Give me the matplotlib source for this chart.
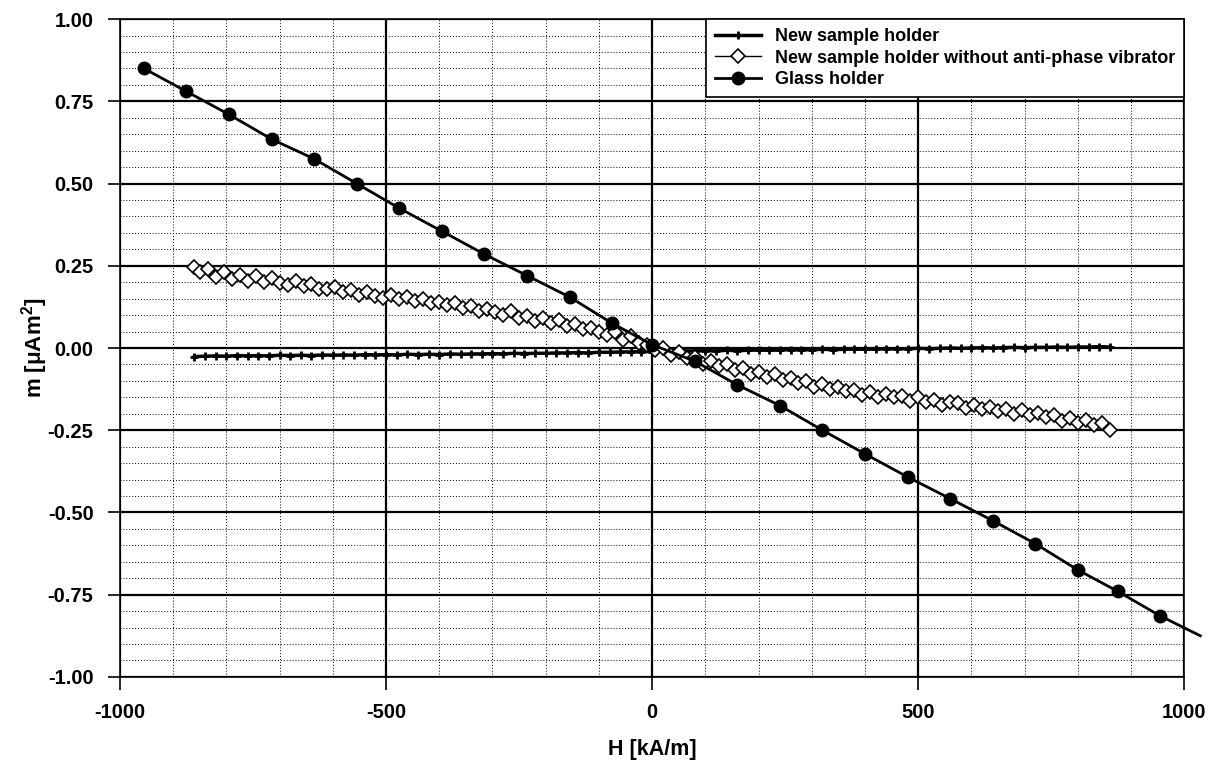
import numpy as np
from matplotlib import pyplot as plt
from matplotlib.ticker import MultipleLocator

plt.rcParams['font.family'] = ['Liberation Sans', 'DejaVu Sans']
plt.rcParams['font.weight'] = 'bold'
plt.rcParams['axes.unicode_minus'] = False

# New sample holder
new_x = [-860, -840, -820, -800, -780, -760, -740, -720, -700, -680, -660, -640, -620, -600,
         -580, -560, -540, -520, -500, -480, -460, -440, -420, -400, -380, -360, -340, -320,
         -300, -280, -260, -240, -220, -200, -180, -160, -140, -120, -100, -80, -60, -40, -20,
         0, 20, 40, 60, 80, 100, 120, 140, 160, 180, 200, 220, 240, 260, 280, 300, 320, 340,
         360, 380, 400, 420, 440, 460, 480, 500, 520, 540, 560, 580, 600, 620, 640, 660, 680,
         700, 720, 740, 760, 780, 800, 820, 840, 860]
new_y = [-0.026, -0.025, -0.024, -0.025, -0.023, -0.024, -0.023, -0.024, -0.022, -0.023,
         -0.022, -0.023, -0.021, -0.022, -0.021, -0.022, -0.020, -0.021, -0.020, -0.021,
         -0.019, -0.020, -0.019, -0.020, -0.018, -0.019, -0.018, -0.018, -0.017, -0.018,
         -0.016, -0.017, -0.016, -0.016, -0.015, -0.015, -0.014, -0.015, -0.013, -0.013,
         -0.012, -0.012, -0.011, -0.011, -0.010, -0.010, -0.009, -0.009, -0.008, -0.009,
         -0.007, -0.008, -0.007, -0.006, -0.007, -0.006, -0.005, -0.006, -0.005, -0.004,
         -0.005, -0.004, -0.003, -0.004, -0.003, -0.002, -0.003, -0.002, -0.001, -0.002,
         -0.001, 0.000, -0.001, 0.000, 0.001, 0.000, 0.001, 0.002, 0.001, 0.002, 0.002,
         0.003, 0.002, 0.003, 0.003, 0.004, 0.003]

# New sample holder without anti-phase vibrator
free_x = [-860, -850, -835, -820, -805, -790, -775, -760, -745, -730, -715, -700, -685,
          -670, -655, -640, -625, -610, -595, -580, -565, -550, -535, -520, -505, -490,
          -475, -460, -445, -430, -415, -400, -385, -370, -355, -340, -325, -310, -295,
          -280, -265, -250, -235, -220, -205, -190, -175, -160, -145, -130, -115, -100,
          -85, -70, -55, -40, -25, -10, 5, 20, 35, 50, 65, 80, 95, 110, 125, 140, 155,
          170, 185, 200, 215, 230, 245, 260, 275, 290, 305, 320, 335, 350, 365, 380, 395,
          410, 425, 440, 455, 470, 485, 500, 515, 530, 545, 560, 575, 590, 605, 620, 635,
          650, 665, 680, 695, 710, 725, 740, 755, 770, 785, 800, 815, 830, 845, 860]
free_y = [0.245, 0.230, 0.240, 0.215, 0.232, 0.210, 0.222, 0.205, 0.218, 0.200, 0.212,
          0.198, 0.192, 0.205, 0.188, 0.196, 0.180, 0.178, 0.186, 0.170, 0.175, 0.162,
          0.170, 0.158, 0.152, 0.162, 0.148, 0.155, 0.142, 0.150, 0.136, 0.140, 0.130,
          0.138, 0.122, 0.128, 0.112, 0.120, 0.108, 0.100, 0.112, 0.092, 0.098, 0.082,
          0.090, 0.075, 0.085, 0.068, 0.072, 0.058, 0.062, 0.050, 0.040, 0.048, 0.025,
          0.035, 0.015, 0.008, -0.005, 0.000, -0.020, -0.012, -0.030, -0.028, -0.048,
          -0.040, -0.055, -0.048, -0.068, -0.060, -0.078, -0.072, -0.088, -0.080, -0.098,
          -0.090, -0.105, -0.100, -0.118, -0.110, -0.126, -0.120, -0.132, -0.128, -0.142,
          -0.135, -0.148, -0.140, -0.150, -0.145, -0.160, -0.150, -0.165, -0.158, -0.172,
          -0.165, -0.168, -0.182, -0.172, -0.186, -0.178, -0.192, -0.185, -0.200, -0.190,
          -0.205, -0.198, -0.210, -0.205, -0.222, -0.212, -0.228, -0.218, -0.235, -0.228,
          -0.250]

# Glass holder
glass_x = [-955, -875, -795, -715, -635, -555, -475, -395, -315, -235, -155, -75, 0,
           80, 160, 240, 320, 400, 480, 560, 640, 720, 800, 875, 955]
glass_y = [0.850, 0.780, 0.710, 0.635, 0.575, 0.500, 0.425, 0.355, 0.285, 0.220, 0.155,
           0.075, 0.010, -0.040, -0.112, -0.175, -0.250, -0.322, -0.392, -0.458, -0.525,
           -0.595, -0.675, -0.740, -0.815]
glass_end = (1030, -0.875)

fig = plt.figure(figsize=(12.11, 7.64), dpi=100)
ax = fig.add_axes([0.099, 0.114, 0.879, 0.861])

ax.plot(new_x, new_y, color='black', lw=2.5, marker='+', ms=6, mew=2,
        label='New sample holder', zorder=3)
ax.plot(free_x, free_y, color='black', lw=1, marker='D', ms=7, mfc='white', mec='black',
        mew=1.2, label='New sample holder without anti-phase vibrator', zorder=4)
ax.plot(glass_x, glass_y, color='black', lw=2, marker='o', ms=9,
        label='Glass holder', zorder=5)
ax.plot([glass_x[-1], glass_end[0]], [glass_y[-1], glass_end[1]], color='black', lw=2,
        clip_on=False, zorder=5)

ax.set_xlim(-1000, 1000)
ax.set_ylim(-1.0, 1.0)
ax.xaxis.set_major_locator(MultipleLocator(500))
ax.xaxis.set_minor_locator(MultipleLocator(100))
ax.yaxis.set_major_locator(MultipleLocator(0.25))
ax.yaxis.set_minor_locator(MultipleLocator(0.05))
ax.grid(which='minor', color='black', ls=(0, (1, 2)), lw=0.7)
ax.grid(which='major', color='black', ls='-', lw=1.6)
ax.set_axisbelow(True)
ax.tick_params(which='minor', length=0)
ax.tick_params(which='major', direction='out', length=9, width=1.2, labelsize=14.5, pad=10)
ax.yaxis.set_major_formatter(plt.FuncFormatter(lambda v, p: f'{v:.2f}'))
for s in ax.spines.values():
    s.set_linewidth(1.2)

ax.set_xlabel('H [kA/m]', fontsize=15.5, fontweight='bold', labelpad=12)
ax.set_ylabel('m [$\\mathregular{\\mu}$Am$^\\mathregular{2}$]', fontsize=16, fontweight='bold',
              labelpad=-2)

leg = ax.legend(loc='upper right', borderaxespad=0, fancybox=False, framealpha=1,
                edgecolor='black', fontsize=13, handlelength=2.5, labelspacing=0.25,
                borderpad=0.5)
leg.get_frame().set_linewidth(1.2)

plt.savefig('out.png')
